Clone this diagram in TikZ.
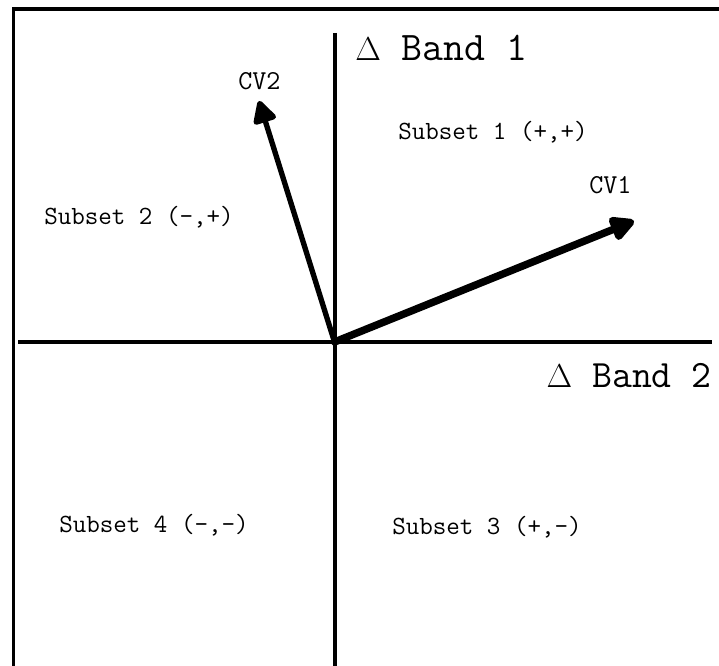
\documentclass[tikz,border=0pt]{standalone}
\usepackage{fontspec}
\usetikzlibrary{arrows.meta}
\begin{document}
\begin{tikzpicture}[x=0.75pt,y=-0.75pt,
  frameline/.style={line width=2.4pt},
  axisline/.style={line width=3pt},
  vecline/.style={line width=#1, line cap=round},
  axislabel/.style={inner sep=0pt, font=\ttfamily\fontsize{#1}{32}\selectfont},
  subsetlabel/.style={anchor=base west, inner sep=0pt, font=\ttfamily\fontsize{19.7}{22}\selectfont},
  cvlabel/.style={anchor=base west, inner sep=0pt, font=\ttfamily\fontsize{20.5}{22}\selectfont}]
\useasboundingbox[fill=white] (0,0) rectangle (719,666);
% frame (left and top only)
\coordinate (fbl) at (13.5,666);
\coordinate (ftl) at (13.5,9);
\coordinate (ftr) at (719,9);
\draw[frameline] (fbl) -- (ftl) -- (ftr);
% axes
\coordinate (O) at (334.5,342);
\coordinate (vt) at (334.5,33);
\coordinate (vb) at (334.5,666);
\coordinate (hl) at (18,342);
\coordinate (hr) at (712,342);
\draw[axisline] (vt) -- (vb);
\draw[axisline] (hl) -- (hr);
% vectors
\coordinate (cv2tip) at (259,101);
\coordinate (cv1tip) at (634,221);
\draw[vecline=4pt, -{Triangle[length=19pt,width=19pt,round]}] (O) -- (cv2tip);
\draw[vecline=5.6pt, -{Triangle[length=21pt,width=20pt,round]}] (O) -- (cv1tip);
% labels
\node[axislabel=30.5, anchor=base west] (b1) at (355,61) {$\Delta$ Band 1};
\node[axislabel=29, anchor=base east] (b2) at (712,388) {$\Delta$ Band 2};
\node[subsetlabel] (s1) at (398,140) {Subset 1 (+,+)};
\node[subsetlabel] (s2) at (44,225) {Subset 2 (-,+)};
\node[subsetlabel] (s4) at (59,533) {Subset 4 (-,-)};
\node[subsetlabel] (s3) at (392,535) {Subset 3 (+,-)};
\node[cvlabel] (cv2) at (238,90) {CV2};
\node[cvlabel] (cv1) at (589,194) {CV1};
\end{tikzpicture}
\end{document}
